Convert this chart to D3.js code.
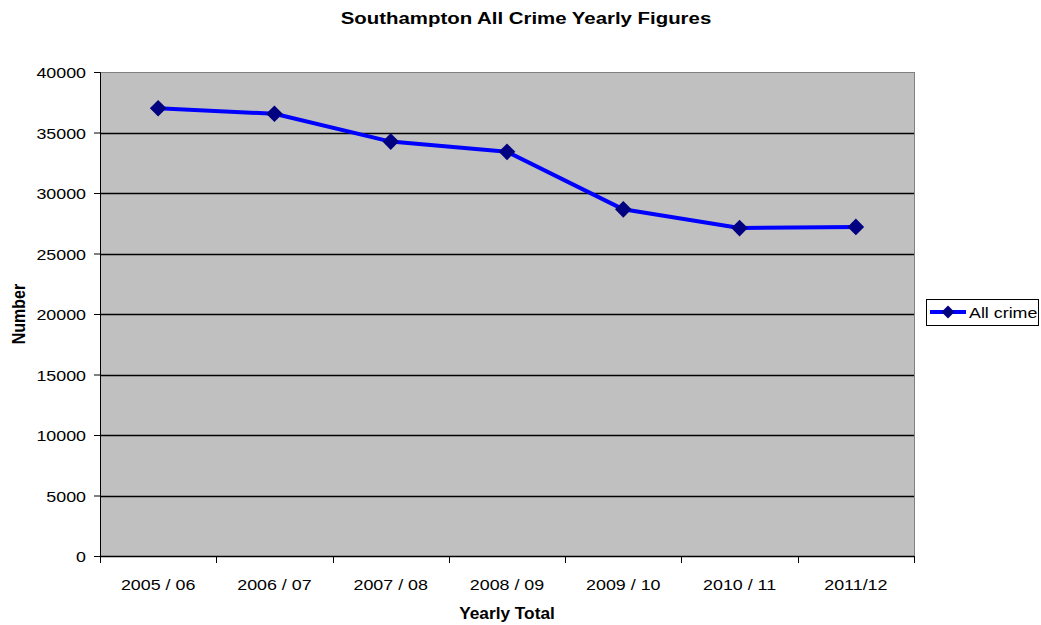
<!DOCTYPE html>
<html>
<head>
<meta charset="utf-8">
<script src="https://cdn.jsdelivr.net/npm/d3@7"></script>
<style>
  html, body { margin: 0; padding: 0; background: #fff; }
  svg { display: block; font-family: Arial, "Liberation Sans", sans-serif; }
</style>
</head>
<body>
<svg id="chart" width="1041" height="625"></svg>
<script>
// Southampton all-crime totals per financial year
const categories = ["2005 / 06", "2006 / 07", "2007 / 08", "2008 / 09", "2009 / 10", "2010 / 11", "2011/12"];
const allCrime = [37000, 36550, 34250, 33400, 28650, 27100, 27200];
const yTicks = [0, 5000, 10000, 15000, 20000, 25000, 30000, 35000, 40000];

const seriesName = "All crime";
const titleText = "Southampton All Crime Yearly Figures";
const xTitle = "Yearly Total";
const yTitle = "Number";

const svg = d3.select("#chart");
const plot = { left: 100, right: 914, top: 72, bottom: 556 };

const x = d3.scaleBand().domain(categories).range([plot.left, plot.right]).padding(0);
const y = d3.scaleLinear().domain([0, 40000]).range([plot.bottom, plot.top]);

// plot background
svg.append("rect")
  .attr("x", plot.left).attr("y", plot.top)
  .attr("width", plot.right - plot.left).attr("height", plot.bottom - plot.top)
  .attr("fill", "#C0C0C0")
  .attr("stroke", "#808080").attr("stroke-width", 1)
  .attr("shape-rendering", "crispEdges");

// horizontal gridlines
svg.append("g")
  .selectAll("line")
  .data(yTicks.filter(t => t > 0 && t < 40000))
  .join("line")
  .attr("x1", plot.left).attr("x2", plot.right)
  .attr("y1", d => Math.round(y(d)) + 0.5).attr("y2", d => Math.round(y(d)) + 0.5)
  .attr("stroke", "#000").attr("stroke-width", 1.3);

// y axis
const yAxis = svg.append("g")
  .attr("transform", `translate(${plot.left},0)`)
  .call(d3.axisLeft(y).tickValues(yTicks).tickFormat(d3.format("d")).tickSize(6).tickPadding(8));
yAxis.select(".domain").attr("stroke", "#000");
yAxis.selectAll(".tick line").attr("stroke", "#000");
yAxis.selectAll(".tick text")
  .attr("font-size", 15.4).attr("fill", "#000")
  .attr("dy", "0.37em")
  .attr("transform", "scale(1.16,1)")
  .attr("x", -14 / 1.16);

// x axis: ticks sit on category boundaries, labels at category centres
const xAxisG = svg.append("g").attr("transform", `translate(0,${plot.bottom})`);
xAxisG.append("line")
  .attr("x1", plot.left).attr("x2", plot.right)
  .attr("y1", 0.5).attr("y2", 0.5)
  .attr("stroke", "#000").attr("stroke-width", 1.5);
const bounds = categories.map(c => x(c)).concat([x(categories[categories.length - 1]) + x.bandwidth()]);
xAxisG.selectAll("line.tk")
  .data(bounds)
  .join("line")
  .attr("class", "tk")
  .attr("x1", d => Math.round(d) + 0.5).attr("x2", d => Math.round(d) + 0.5)
  .attr("y1", 0).attr("y2", 7)
  .attr("stroke", "#000");
xAxisG.selectAll("text")
  .data(categories)
  .join("text")
  .attr("transform", d => `translate(${x(d) + x.bandwidth() / 2},34) scale(1.16,1)`)
  .attr("text-anchor", "middle")
  .attr("font-size", 15.4)
  .attr("fill", "#000")
  .text(d => d);

// series line
const line = d3.line()
  .x((d, i) => x(categories[i]) + x.bandwidth() / 2)
  .y(d => y(d));
svg.append("path")
  .datum(allCrime)
  .attr("d", line)
  .attr("fill", "none")
  .attr("stroke", "#0000FF")
  .attr("stroke-width", 4)
  .attr("stroke-linejoin", "round");

// diamond markers
const diamond = r => `M0,${-r}L${r},0L0,${r}L${-r},0Z`;
svg.append("g")
  .selectAll("path")
  .data(allCrime)
  .join("path")
  .attr("transform", (d, i) => `translate(${x(categories[i]) + x.bandwidth() / 2},${y(d)})`)
  .attr("d", diamond(8.3))
  .attr("fill", "#000080");

// title
svg.append("text")
  .attr("transform", "translate(526,24) scale(1.2,1)")
  .attr("text-anchor", "middle")
  .attr("font-size", 17).attr("font-weight", "bold")
  .text(titleText);

// axis titles
svg.append("text")
  .attr("transform", "translate(507,619) scale(1.08,1)")
  .attr("text-anchor", "middle")
  .attr("font-size", 16).attr("font-weight", "bold")
  .text(xTitle);

svg.append("text")
  .attr("transform", "translate(25,314) rotate(-90) scale(1,1.1)")
  .attr("text-anchor", "middle")
  .attr("font-size", 16).attr("font-weight", "bold")
  .text(yTitle);

// legend
const legend = svg.append("g");
legend.append("rect")
  .attr("x", 926.5).attr("y", 299.5).attr("width", 112).attr("height", 26)
  .attr("fill", "#fff").attr("stroke", "#000").attr("stroke-width", 1);
legend.append("line")
  .attr("x1", 930).attr("x2", 966).attr("y1", 312).attr("y2", 312)
  .attr("stroke", "#0000FF").attr("stroke-width", 4);
legend.append("path")
  .attr("transform", "translate(948,312)")
  .attr("d", diamond(6.5))
  .attr("fill", "#000080");
legend.append("text")
  .attr("transform", "translate(969,318) scale(1.16,1)")
  .attr("font-size", 15.4)
  .text(seriesName);
</script>
</body>
</html>
